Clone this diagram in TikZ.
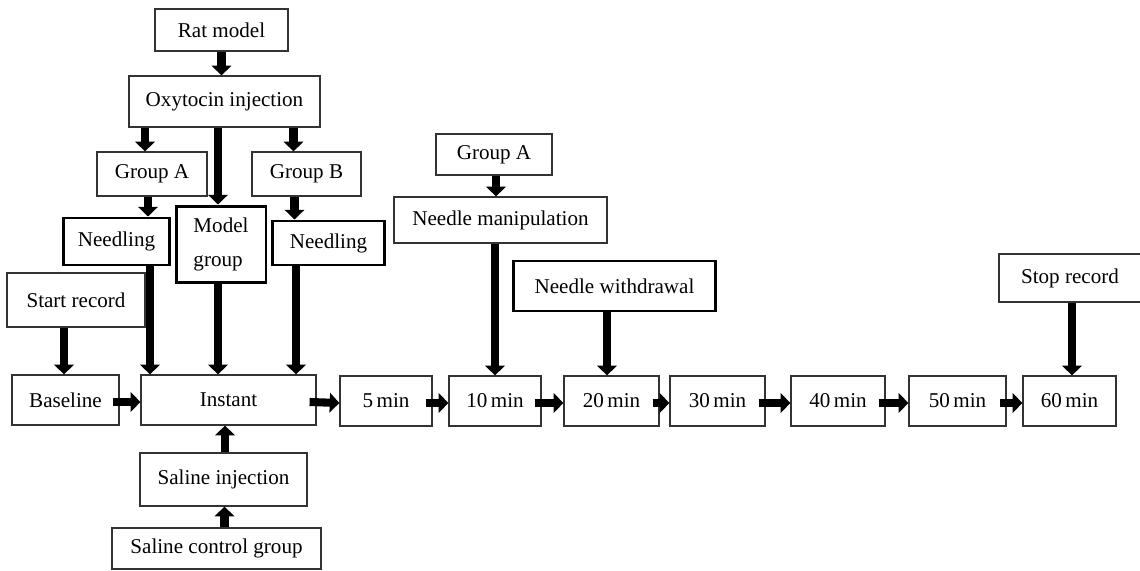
\documentclass[tikz,border=0pt]{standalone}
\usepackage{fontspec}
\setmainfont{Liberation Serif}
\usetikzlibrary{arrows.meta,calc}

\tikzset{
  box/.style={draw=black!80, line width=0.7pt, inner sep=1pt, font=\fontsize{12}{15}\selectfont},
  thickbox/.style={box, draw=black, line width=1.7pt},
  fat/.style={line width=4.6pt, draw=black, -{Triangle[width=11pt,length=5.5pt]}}
}

\begin{document}
\begin{tikzpicture}[x=0.02cm, y=-0.02cm]
      \useasboundingbox (0,0) rectangle (1140,571);
      \begin{scope}
        % oxytocin branch
        \node[box, minimum width=2.66cm, minimum height=0.84cm] (rat) at (221.5,30) {Rat model};
        \node[box, minimum width=3.82cm, minimum height=1.02cm] (oxy) at (224.5,101.5) {Oxytocin injection};
        \node[box, minimum width=2.2cm, minimum height=0.88cm] (grpA) at (152,174) {Group A};
        \node[box, minimum width=2.18cm, minimum height=0.88cm] (grpB) at (306.5,174) {Group B};
        \node[thickbox, minimum width=2.14cm, minimum height=0.94cm] (needA) at (116.5,241.5) {Needling};
        \node[thickbox, minimum width=1.8cm, minimum height=1.54cm, align=left] (model) at (221,244.5) {Model\\[4pt]group};
        \node[thickbox, minimum width=2.26cm, minimum height=0.88cm] (needB) at (328.5,243) {Needling};
        \node[box, minimum width=2.76cm, minimum height=1.08cm] (start) at (76,300) {Start record};

        % saline branch
        \node[box, minimum width=3.34cm, minimum height=1.06cm] (salinj) at (223.5,479.5) {Saline injection};
        \node[box, minimum width=4.18cm, minimum height=0.82cm] (salctl) at (216.5,548.5) {Saline control group};
      \end{scope}

      % time line
      \node[box, minimum width=2.14cm, minimum height=1cm] (base) at (65.5,400) {Baseline};
      \node[box, minimum width=3.5cm, minimum height=1cm] (inst) at (228.5,400) {Instant};
      \foreach \t/\x/\w in {5/386/1.84, 10/495/1.84, 20/611.5/1.9, 30/717.5/1.9, 40/838/1.88, 50/957.5/1.94, 60/1069.5/1.86}
        \node[box, minimum width=\w cm, minimum height=1cm] (m\t) at (\x,401) {\t\,min};

      % events on the time line
      \node[box, minimum width=2.32cm, minimum height=0.82cm] (grpA2) at (494,154.5) {Group A};
      \node[box, minimum width=4.26cm, minimum height=0.92cm] (manip) at (500.5,220) {Needle manipulation};
      \node[thickbox, minimum width=4.06cm, minimum height=1cm] (withd) at (614.5,286) {Needle withdrawal};
      \node[box, minimum width=2.84cm, minimum height=0.96cm] (stop) at (1070,278) {Stop record};

      % arrows
      \draw[fat] (rat.south) -- (rat.south |- oxy.north);
      \draw[fat] ([xshift=-0.14cm]grpA.north |- oxy.south) -- ([xshift=-0.14cm]grpA.north);
      \draw[fat] ([xshift=-0.06cm]model.north |- oxy.south) -- ([xshift=-0.06cm]model.north);
      \draw[fat] ([xshift=-0.26cm]grpB.north |- oxy.south) -- ([xshift=-0.26cm]grpB.north);
      \draw[fat] ([xshift=-0.08cm]grpA.south) -- ([xshift=-0.08cm]grpA.south |- needA.north);
      \draw[fat] ([xshift=-0.24cm]grpB.south) -- ([xshift=-0.24cm]grpB.south |- needB.north);
      \draw[fat] ([xshift=0.67cm]needA.south) -- ([xshift=0.67cm]needA.south |- inst.north);
      \draw[fat] ([xshift=-0.06cm]model.south) -- ([xshift=-0.06cm]model.south |- inst.north);
      \draw[fat] ([xshift=-0.65cm]needB.south) -- ([xshift=-0.65cm]needB.south |- inst.north);
      \draw[fat] ([xshift=-0.24cm]start.south) -- ([xshift=-0.24cm]start.south |- base.north);
      \draw[fat] ([xshift=0.03cm]salinj.north) -- ([xshift=0.03cm]salinj.north |- inst.south);
      \draw[fat] ([xshift=0.16cm]salctl.north) -- ([xshift=0.16cm]salctl.north |- salinj.south);
      \draw[fat] ([xshift=0.04cm]grpA2.south) -- ([xshift=0.04cm]grpA2.south |- manip.north);
      \draw[fat] (m10.north |- manip.south) -- (m10.north);
      \draw[fat] ([xshift=-0.15cm]withd.south) -- ([xshift=-0.15cm]withd.south |- m20.north);
      \draw[fat] ([xshift=0.04cm]stop.south) -- ([xshift=0.04cm]stop.south |- m60.north);

      \foreach \a/\b in {base/inst, inst/m5, m5/m10, m10/m20, m20/m30, m30/m40, m40/m50, m50/m60}
        \draw[fat] ([xshift=-0.14cm,yshift=-0.04cm]\a.east) -- ([yshift=-0.04cm]\b.west);
\end{tikzpicture}
\end{document}
